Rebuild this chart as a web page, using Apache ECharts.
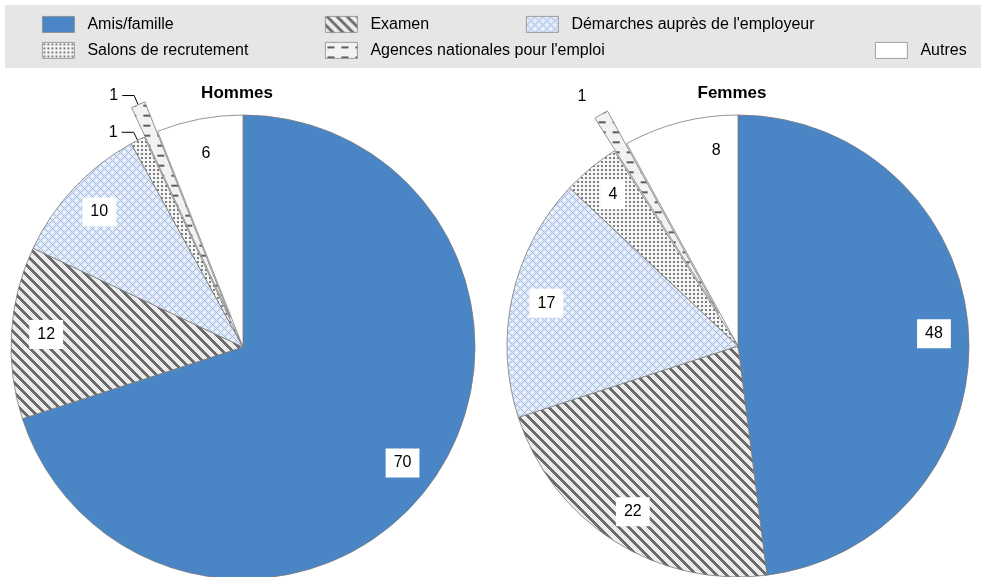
<!DOCTYPE html>
<html>
<head>
<meta charset="utf-8">
<script src="https://cdn.jsdelivr.net/npm/echarts@6/dist/echarts.min.js"></script>
<style>
  html, body { margin: 0; padding: 0; background: #fff; }
  #chart { width: 981px; height: 577px; }
</style>
</head>
<body>
<div id="chart"></div>
<script>
// Recruitment channels, share of hires (%) by sex
const categories = [
  'Amis/famille',
  'Examen',
  "Démarches auprès de l'employeur",
  'Salons de recrutement',
  "Agences nationales pour l'emploi",
  'Autres'
];
const hommes = [70, 12, 10, 1, 1, 6];
const femmes = [48, 22, 17, 4, 1, 8];
const pieTitles = ['Hommes', 'Femmes'];

const FONT = '"Liberation Sans", Arial, Helvetica, sans-serif';

// ---- fill patterns -------------------------------------------------------
function tile(w, h, paint) {
  const c = document.createElement('canvas');
  c.width = w; c.height = h;
  const g = c.getContext('2d');
  paint(g, w, h);
  return { image: c, repeat: 'repeat' };
}
function px(g, x, y, col) { g.fillStyle = col; g.fillRect(x, y, 1, 1); }

const stripeFill = tile(10, 10, (g, w, h) => {
  for (let y = 0; y < h; y++) for (let x = 0; x < w; x++) {
    const d = ((x - y) % 10 + 10) % 10;
    if (d < 4) px(g, x, y, '#6c6c6c');
    else px(g, x, y, (x + y) % 2 ? '#f6f6f6' : '#e4e4e4');
  }
});
const crossFill = tile(8, 8, (g, w, h) => {
  for (let y = 0; y < h; y++) for (let x = 0; x < w; x++) {
    const a = (x + y) % 8, b = ((x - y) % 8 + 8) % 8;
    let col = '#dfe8f7';
    if (a === 0 || b === 0) col = '#9fbae5';
    else if (a === 4 && b === 4) col = '#ffffff';
    else if (a === 4 || b === 4) col = '#eff4fb';
    px(g, x, y, col);
  }
});
const dotFill = tile(4, 4, (g) => {
  g.fillStyle = '#f5f5f5'; g.fillRect(0, 0, 4, 4);
  g.fillStyle = '#7e7e7e'; g.fillRect(1, 1, 2, 2);
});
const dashFill = tile(14, 10, (g) => {
  g.fillStyle = '#f2f2f2'; g.fillRect(0, 0, 14, 10);
  g.fillStyle = '#5c5c5c'; g.fillRect(2, 4, 7, 2);
});
const fills = ['#4a86c6', stripeFill, crossFill, dotFill, dashFill, '#ffffff'];

// ---- pie geometry ----------------------------------------------------------
const pies = [
  { values: hommes, center: [243, 347], radius: 232, explode: 32,
    outside: { 3: { length: 9, length2: 12, line: true },
               4: { length: 10, length2: 12, line: true } },
    angleNudge: {} },
  { values: femmes, center: [738, 346], radius: 231, explode: 38,
    outside: { 4: { length: 21, length2: 0, line: false } },
    angleNudge: { 5: 8 } }
];
const EXPLODED = 4;   // "Agences nationales pour l'emploi" is pulled out of both pies
const LABEL_RADIUS = 0.85;

function midAngle(values, i) {
  const total = values.reduce((s, v) => s + v, 0);
  let before = 0;
  for (let k = 0; k < i; k++) before += values[k];
  return (before + values[i] / 2) / total * 360;
}

const series = pies.map((p) => ({
  type: 'pie',
  center: p.center,
  radius: [0, p.radius],
  startAngle: 90,
  clockwise: true,
  silent: true,
  animation: false,
  avoidLabelOverlap: false,
  selectedMode: 'single',
  selectedOffset: p.explode,
  select: { itemStyle: { borderColor: '#7a7a7a', borderWidth: 0.8 } },
  itemStyle: { borderColor: '#7a7a7a', borderWidth: 0.8 },
  label: {
    show: true,
    position: 'inside',
    color: '#000',
    fontFamily: FONT,
    fontSize: 16,
    backgroundColor: '#ffffff',
    padding: [7, 8, 6, 8],
    formatter: (d) => String(d.value)
  },
  labelLine: { show: false },
  labelLayout: (params) => {
    const i = params.dataIndex;
    if (p.outside[i]) return;
    const a = (midAngle(p.values, i) + (p.angleNudge[i] || 0)) * Math.PI / 180;
    const rr = p.radius * LABEL_RADIUS;
    return {
      x: p.center[0] + rr * Math.sin(a),
      y: p.center[1] - rr * Math.cos(a),
      align: 'center',
      verticalAlign: 'middle'
    };
  },
  data: p.values.map((v, i) => {
    const item = {
      name: categories[i],
      value: v,
      itemStyle: { color: fills[i] }
    };
    if (i === EXPLODED) item.selected = true;
    const o = p.outside[i];
    if (o) {
      item.label = { position: 'outside', backgroundColor: 'transparent', padding: 0, distanceToLabelLine: 4 };
      item.labelLine = { show: o.line, length: o.length, length2: o.length2, smooth: false,
                         lineStyle: { color: '#000', width: 1 } };
    }
    return item;
  })
}));

// ---- legend: one component per entry, laid out in two rows ----------------
const legendSlots = [
  { left: 42, top: 16 }, { left: 325, top: 16 }, { left: 526, top: 16 },
  { left: 42, top: 42 }, { left: 325, top: 42 }, { left: 875, top: 42 }
];
const legends = categories.map((name, i) => ({
  data: [name],
  left: legendSlots[i].left,
  top: legendSlots[i].top,
  padding: 0,
  icon: 'rect',
  itemWidth: 32,
  itemHeight: 16,
  selectedMode: false,
  itemStyle: { borderColor: '#8a8a8a', borderWidth: 0.8 },
  textStyle: { color: '#000', fontFamily: FONT, fontSize: 16, padding: [0, 0, 0, 8] }
}));

const chart = echarts.init(document.getElementById('chart'), null, { renderer: 'canvas' });
chart.setOption({
  backgroundColor: '#ffffff',
  animation: false,
  graphic: [{
    type: 'rect', z: -1, silent: true,
    shape: { x: 5, y: 5, width: 976, height: 63 },
    style: { fill: '#e6e6e6' }
  }],
  title: pieTitles.map((t, i) => ({
    text: t,
    left: pies[i].center[0] - 6,
    top: 85,
    textAlign: 'center',
    padding: 0,
    textStyle: { fontFamily: FONT, fontSize: 17, fontWeight: 'bold', color: '#000' }
  })),
  legend: legends,
  series: series
});
</script>
</body>
</html>
